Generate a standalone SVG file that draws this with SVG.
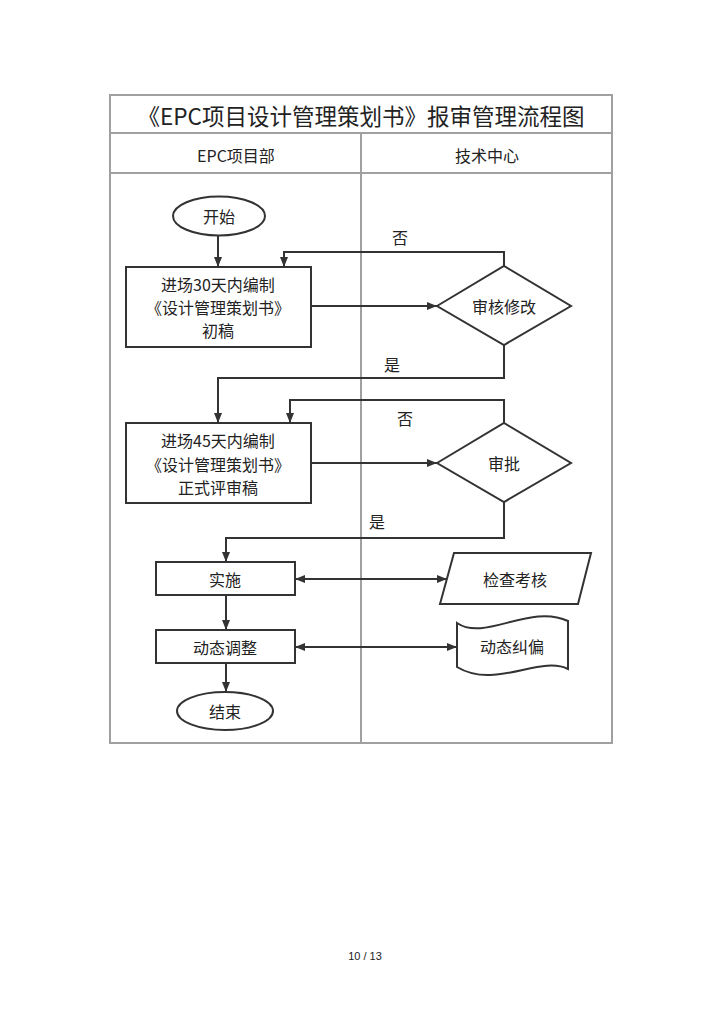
<svg xmlns="http://www.w3.org/2000/svg" width="724" height="1024" viewBox="0 0 724 1024">
<style>
text{font-family:"Noto Sans CJK SC","Noto Sans",sans-serif;fill:#222;text-anchor:middle;dominant-baseline:central}
.frame{fill:none;stroke:#a0a0a0;stroke-width:2}
.shape{fill:#fff;stroke:#333;stroke-width:2}
.conn{fill:none;stroke:#333;stroke-width:2}
.t16{font-size:16px}
</style>
<defs>
<marker id="ah" viewBox="0 0 10 10" refX="10" refY="5" markerWidth="10" markerHeight="10" markerUnits="userSpaceOnUse" orient="auto-start-reverse">
<path d="M0,1 L10,5 L0,9 Z" fill="#333"/>
</marker>
</defs>
<rect width="724" height="1024" fill="#fff"/>
<g id="frame">
<rect class="frame" x="110" y="95" width="502" height="648"/>
<line class="frame" x1="110" y1="133" x2="612" y2="133"/>
<line class="frame" x1="110" y1="173" x2="612" y2="173"/>
<line class="frame" x1="361" y1="133" x2="361" y2="743"/>
<text x="361" y="115" style="font-size:22.5px">《EPC项目设计管理策划书》报审管理流程图</text>
<text x="236" y="155" class="t16">EPC项目部</text>
<text x="487" y="155" class="t16">技术中心</text>
</g>
<g id="connectors">
<path class="conn" d="M218,236 V267" marker-end="url(#ah)"/>
<path class="conn" d="M311,306 H437" marker-end="url(#ah)"/>
<path class="conn" d="M504,266 V252 H284 V267" marker-end="url(#ah)"/>
<path class="conn" d="M504,345 V378 H218 V423" marker-end="url(#ah)"/>
<path class="conn" d="M311,463 H437" marker-end="url(#ah)"/>
<path class="conn" d="M504,423 V400 H290 V423" marker-end="url(#ah)"/>
<path class="conn" d="M504,502 V538 H226 V562" marker-end="url(#ah)"/>
<path class="conn" d="M226,595 V630" marker-end="url(#ah)"/>
<path class="conn" d="M226,663 V692" marker-end="url(#ah)"/>
<path class="conn" d="M295,579 H447" marker-start="url(#ah)" marker-end="url(#ah)"/>
<path class="conn" d="M295,647 H457" marker-start="url(#ah)" marker-end="url(#ah)"/>
<text x="400" y="237" class="t16">否</text>
<text x="392" y="364" class="t16">是</text>
<text x="405" y="418" class="t16">否</text>
<text x="377" y="521" class="t16">是</text>
</g>
<g id="start">
<ellipse class="shape" cx="219" cy="216" rx="46" ry="19.5"/>
<text x="219" y="216" class="t16">开始</text>
</g>
<g id="draft">
<rect class="shape" x="126" y="267" width="185" height="80"/>
<text x="218" y="284" class="t16">进场30天内编制</text>
<text x="218" y="307" class="t16">《设计管理策划书》</text>
<text x="218" y="330" class="t16">初稿</text>
</g>
<g id="review">
<polygon class="shape" points="437,306 504,266 571,306 504,345"/>
<text x="504" y="306" class="t16">审核修改</text>
</g>
<g id="formal">
<rect class="shape" x="126" y="423" width="185" height="80"/>
<text x="218" y="440" class="t16">进场45天内编制</text>
<text x="218" y="464" class="t16">《设计管理策划书》</text>
<text x="218" y="487" class="t16">正式评审稿</text>
</g>
<g id="approve">
<polygon class="shape" points="437,463 504,423 571,463 504,502"/>
<text x="504" y="463" class="t16">审批</text>
</g>
<g id="implement">
<rect class="shape" x="156" y="562" width="139" height="33"/>
<text x="225" y="579" class="t16">实施</text>
</g>
<g id="adjust">
<rect class="shape" x="156" y="630" width="139" height="33"/>
<text x="225" y="647" class="t16">动态调整</text>
</g>
<g id="end">
<ellipse class="shape" cx="225" cy="711" rx="48" ry="19"/>
<text x="225" y="711" class="t16">结束</text>
</g>
<g id="inspect">
<polygon class="shape" points="454,553 591,553 578,604 440,604"/>
<text x="515" y="579" class="t16">检查考核</text>
</g>
<g id="correct">
<path class="shape" d="M457,623 C485,642 530,603 568,621 V669 C540,655 495,690 457,667 Z"/>
<text x="512" y="646" class="t16">动态纠偏</text>
</g>
<text x="365" y="956" style="font-family:'Liberation Sans',sans-serif;font-size:11px">10 / 13</text>
</svg>
